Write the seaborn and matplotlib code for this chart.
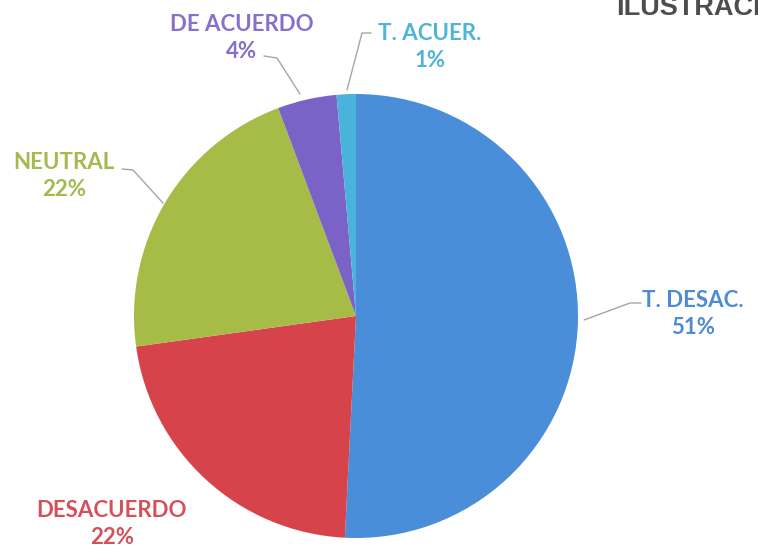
import matplotlib
matplotlib.use("Agg")
import matplotlib.pyplot as plt
import seaborn as sns

# ---- data ----
categories = ["T. DESAC.", "DESACUERDO", "NEUTRAL", "DE ACUERDO", "T. ACUER."]
values = [50.8, 22.0, 21.5, 4.3, 1.4]
slice_colors = ["#4a8dd8", "#d7434b", "#a6bc47", "#7b62c6", "#4ab3dc"]
label_colors = ["#4d8bd2", "#d4505b", "#a3ba4e", "#8670cc", "#4fb4d8"]

sns.set_theme(style="white")
plt.rcParams['font.family'] = ['Lato', 'DejaVu Sans']

W, H = 758, 555
fig = plt.figure(figsize=(W / 100, H / 100), dpi=100)
ax = fig.add_axes([0, 0, 1, 1])
ax.set_xlim(0, W)
ax.set_ylim(H, 0)
ax.axis("off")

cx, cy, r = 356, 316, 222
total = sum(values)
pcts = [v / total * 100 for v in values]

# pie drawn in its own equal-aspect axes placed over the same pixel box
pax = fig.add_axes([(cx - r) / W, (H - cy - r) / H, 2 * r / W, 2 * r / H])
pax.pie(values, colors=slice_colors, startangle=90, counterclock=False,
        radius=1, wedgeprops=dict(linewidth=0))
pax.set_xlim(-1, 1)
pax.set_ylim(-1, 1)
pax.set_aspect("equal")
pax.axis("off")

# label positions (pixels) and leader lines
label_pos = {
    "T. DESAC.": (693, 314),
    "DESACUERDO": (112, 524),
    "NEUTRAL": (64, 176),
    "DE ACUERDO": (242, 38),
    "T. ACUER.": (430, 47),
}
leaders = {
    "T. DESAC.": [(641, 303), (630, 303), (584, 320)],
    "NEUTRAL": [(122, 169), (133, 170), (163, 203)],
    "DE ACUERDO": [(264, 56), (277, 58), (300, 94)],
    "T. ACUER.": [(371, 33), (362, 33), (347, 90)],
}

for cat, p, col in zip(categories, pcts, label_colors):
    x, y = label_pos[cat]
    ax.text(x, y, f"{cat}\n{p:.0f}%", ha="center", va="center",
            fontsize=16, fontweight="bold", color=col, linespacing=1.4)
    if cat in leaders:
        xs, ys = zip(*leaders[cat])
        ax.plot(xs, ys, color="#a6a6a6", lw=1)

ax.text(616, 15, "ILUSTRACIÓN", ha="left", va="baseline", fontsize=19.5,
        fontweight="bold", color="#4d4d4d", family=["Liberation Sans", "DejaVu Sans"])

fig.savefig("out.png", dpi=100)
